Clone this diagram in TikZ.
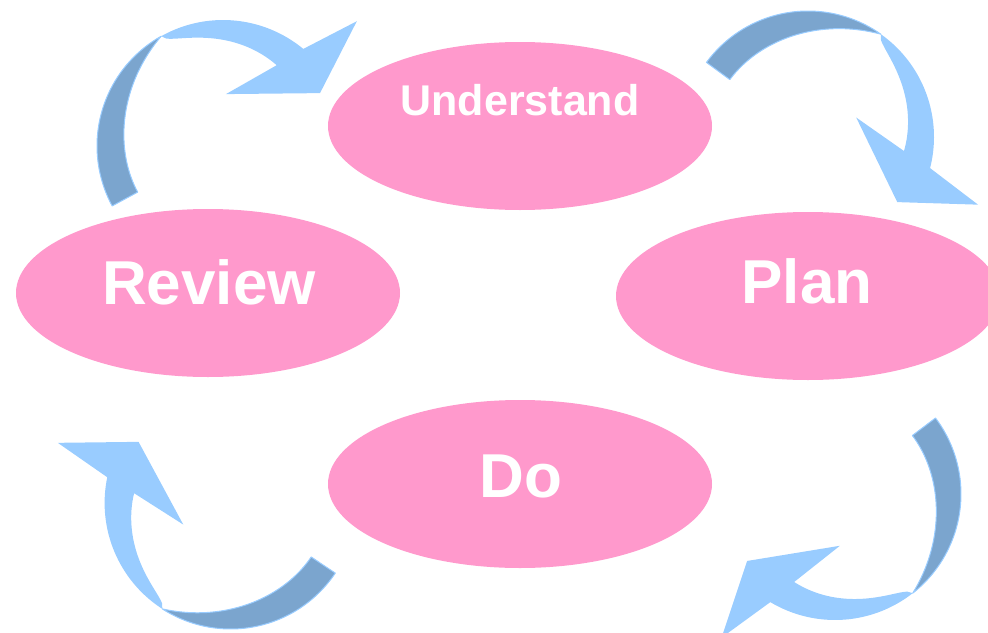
\documentclass[tikz,border=0pt]{standalone}
\usepackage{fontspec}
\setmainfont{Liberation Sans}
\usetikzlibrary{shapes.geometric}

\definecolor{blobpink}{HTML}{FF99CC}
\definecolor{lightarrow}{HTML}{99CCFF}
\definecolor{darkarrow}{HTML}{7BA5CE}

\begin{document}
\begin{tikzpicture}[
    x=1pt, y=-1pt,
    blob/.style={ellipse, fill=blobpink, draw=none, inner sep=0pt,
        minimum width=384pt, minimum height=168pt},
    word/.style={anchor=base, text=white, font=\bfseries\fontsize{62}{62}\selectfont},
    smallword/.style={word, font=\bfseries\fontsize{43}{43}\selectfont},
    front/.style={fill=lightarrow},
    back/.style={fill=darkarrow, draw=lightarrow, line width=1pt, line join=round},
    pics/ribbon/.style={code={
        % twisted back side, from the tail to the twist
        \filldraw[back] plot[domain=0:89, samples=40, variable=\t] ({#1+\t}:126)
            -- plot[domain=89:0, samples=40, variable=\t] ({#1+\t}:{126-29*(1-pow(\t/89,2.5))})
            -- cycle;
        % front side with the head
        \fill[front] plot[domain=89:158, samples=40, variable=\t] ({#1+\t}:126)
            -- ({#1+165.4}:183) -- ({#1+179.8}:110.5) -- ({#1+121.7}:52) -- ({#1+152}:97)
            -- plot[domain=152:89, samples=40, variable=\t] ({#1+\t}:{126-29*sqrt((\t-89)/63)})
            -- cycle;
    }}
]
\useasboundingbox (0,0) rectangle (988,632);
\clip (0,0) rectangle (988,632);

% the four stages
\node[blob] (understand) at (520,126) {};
\node[blob] (review) at (208,293) {};
\node[blob] (plan) at (808,296) {};
\node[blob] (do) at (520,484) {};

\node[smallword] (tUnderstand) at (520,115) {Understand};
\node[word] (tReview) at (209,304) {Review};
\node[word] (tPlan) at (807,303) {Plan};
\node[word] (tDo) at (521,497) {Do};

% curved arrows round the cycle
\pic at (223,146) {ribbon=151.6};   % Review -> Understand
\pic at (808,137) {ribbon=216.3};   % Understand -> Plan
\pic at (835,494) {ribbon=322.9};   % Plan -> Do
\pic at (230.6,503) {ribbon=33.8};  % Do -> Review

\end{tikzpicture}
\end{document}
